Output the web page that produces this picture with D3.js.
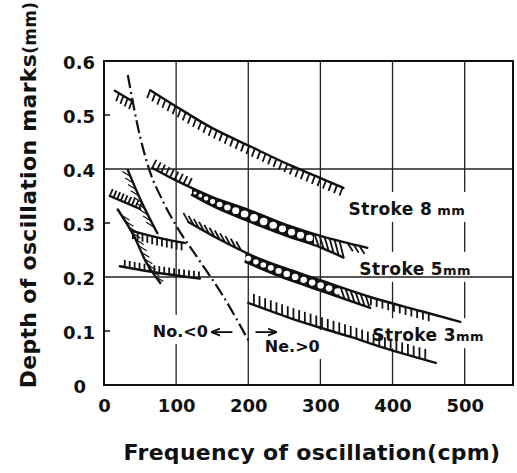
<!DOCTYPE html>
<html>
<head>
<meta charset="utf-8">
<script src="https://cdn.jsdelivr.net/npm/d3@7"></script>
<style>
  body { margin: 0; background: #fff; }
  svg { display: block; }
  text { font-family: "DejaVu Sans", sans-serif; fill: #111; }
</style>
</head>
<body>
<div id="chart"></div>
<script>
// Axis ticks and grid
const xTicks = [0, 100, 200, 300, 400, 500];
const yTicks = [0, 0.1, 0.2, 0.3, 0.4, 0.5, 0.6];
const xGrid = [100, 200, 300, 400, 500];
const yGrid = [0.2, 0.4];

// Curves: [frequency (cpm), depth (mm)]
const stroke8Upper = [[64,0.546],[101,0.515],[147,0.478],[201,0.443],[258,0.407],[300,0.383],[332,0.365]];
const stroke8Short = [[15,0.545],[40,0.525]];
const stroke8LowerTop = [[67,0.402],[101,0.378],[147,0.350],[201,0.324],[258,0.294],[300,0.276],[365,0.254]];
const stroke8LowerBottom = [[122,0.352],[147,0.334],[201,0.303],[258,0.274],[300,0.255],[332,0.236]];
const stroke5Top = [[117,0.302],[161,0.269],[210,0.237],[258,0.213],[300,0.194],[369,0.163],[439,0.137],[494,0.117]];
const stroke5Bottom = [[196,0.228],[258,0.194],[300,0.175],[369,0.143]];
const stroke3 = [[200,0.152],[258,0.124],[300,0.106],[342,0.089],[397,0.065],[460,0.041]];
const leftF = [[8,0.350],[50,0.326]];
const leftG = [[33,0.398],[50,0.345],[74,0.281]];
const leftH = [[19,0.325],[43,0.272],[57,0.231],[78,0.189]];
const leftI = [[40,0.285],[78,0.272],[112,0.263]];
const leftJ = [[22,0.220],[78,0.207],[133,0.197]];
const neBoundary = [[33,0.574],[50,0.46],[65,0.39],[80,0.345],[100,0.295],[130,0.235],[165,0.165],[200,0.083]];

// Labels: [text, small suffix, cpm, depth]
const strokeLabels = [["Stroke 8", " mm", 339, 0.315], ["Stroke 5", "mm", 354, 0.204], ["Stroke 3", "mm", 372, 0.081]];
const signLabels = [["No.<0", 144, 0.089, "end"], ["Ne.>0", 223, 0.061, "start"]];
const signArrows = [[178, 150, 0.098], [210, 238, 0.098]];

const width = 517, height = 473;

const x = d3.scaleLinear().domain([0, 567]).range([104, 513]);
const y = d3.scaleLinear().domain([0, 0.6]).range([385, 61]);

const svg = d3.select("#chart").append("svg")
    .attr("width", width)
    .attr("height", height);

svg.append("defs").append("marker")
    .attr("id", "arrow")
    .attr("viewBox", "0 0 10 10")
    .attr("refX", 9).attr("refY", 5)
    .attr("markerWidth", 5).attr("markerHeight", 5)
    .attr("orient", "auto")
    .append("path")
    .attr("d", "M0,1 L10,5 L0,9")
    .attr("fill", "none").attr("stroke", "#111").attr("stroke-width", 2);

// vertical grid
const gridV = svg.append("g");
gridV.selectAll("line").data(xGrid).enter().append("line")
    .attr("x1", d => x(d)).attr("x2", d => x(d))
    .attr("y1", y(0.6)).attr("y2", y(0))
    .attr("stroke", "#222").attr("stroke-width", 1.3);

const haloLayer = svg.append("g");

const gridH = svg.append("g");
gridH.selectAll("line").data(yGrid).enter().append("line")
    .attr("x1", x(0)).attr("x2", x(567))
    .attr("y1", d => y(d)).attr("y2", d => y(d))
    .attr("stroke", "#222").attr("stroke-width", 1.3);

// frame
svg.append("rect")
    .attr("x", x(0)).attr("y", y(0.6))
    .attr("width", x(567) - x(0)).attr("height", y(0) - y(0.6))
    .attr("fill", "none").attr("stroke", "#111").attr("stroke-width", 2);

// inner ticks on the y axis
svg.append("g").selectAll("line").data([0.1, 0.3, 0.5]).enter().append("line")
    .attr("x1", x(0)).attr("x2", x(0) + 6)
    .attr("y1", d => y(d)).attr("y2", d => y(d))
    .attr("stroke", "#111").attr("stroke-width", 1.5);

// axes (labels only)
const xAxis = svg.append("g")
    .attr("transform", `translate(0,${y(0)})`)
    .call(d3.axisBottom(x).tickValues(xTicks).tickSize(0).tickPadding(14).tickFormat(d3.format("d")));
xAxis.select(".domain").remove();
xAxis.selectAll("text").attr("font-size", 18).attr("font-weight", "bold")
    .attr("font-family", "DejaVu Sans");

const yAxis = svg.append("g")
    .attr("transform", `translate(${x(0)},0)`)
    .call(d3.axisLeft(y).tickValues(yTicks).tickSize(0).tickPadding(9)
        .tickFormat(d => d === 0 ? "0" : d3.format(".1f")(d)));
yAxis.select(".domain").remove();
yAxis.selectAll("text").attr("font-size", 18).attr("font-weight", "bold")
    .attr("font-family", "DejaVu Sans")
    .attr("dy", "0.42em");
yAxis.selectAll(".tick").filter(d => d === 0).select("text").attr("dx", -9);

// axis titles
svg.append("text")
    .attr("x", 312).attr("y", 460)
    .attr("text-anchor", "middle")
    .attr("font-size", 22).attr("font-weight", "bold")
    .attr("letter-spacing", 0.3)
    .text("Frequency of oscillation(cpm)");

const yTitle = svg.append("text")
    .attr("transform", "translate(36,195) rotate(-90)")
    .attr("text-anchor", "middle")
    .attr("font-size", 22).attr("font-weight", "bold")
    .attr("letter-spacing", 0.3);
yTitle.append("tspan").text("Depth of oscillation marks");
yTitle.append("tspan").attr("font-size", 17).text("(mm)");

// curves
const line = d3.line().x(d => x(d[0])).y(d => y(d[1])).curve(d3.curveMonotoneX);
const data = svg.append("g");

function drawCurve(pts, w) {
    return data.append("path")
        .attr("d", line(pts))
        .attr("fill", "none")
        .attr("stroke", "#111")
        .attr("stroke-width", w || 2.4)
        .attr("stroke-linecap", "round");
}

// y on a path at a given pixel x (path runs left to right)
function yAt(node, px) {
    let lo = 0, hi = node.getTotalLength();
    for (let i = 0; i < 30; i++) {
        const mid = (lo + hi) / 2;
        if (node.getPointAtLength(mid).x < px) lo = mid; else hi = mid;
    }
    return node.getPointAtLength(lo).y;
}

function hatch(node, from, to, dx, dy, step, w) {
    const len = node.getTotalLength();
    const g = data.append("g").attr("stroke", "#111").attr("stroke-width", w || 1.8);
    for (let l = 0; l <= len; l += step) {
        const p = node.getPointAtLength(l);
        if (p.x < x(from) || p.x > x(to)) continue;
        g.append("line")
            .attr("x1", p.x).attr("y1", p.y)
            .attr("x2", p.x + dx).attr("y2", p.y + dy);
    }
}

// black band between two curves with white round holes
function chain(topNode, botNode, from, to) {
    const g = data.append("g");
    const x0 = x(from), x1 = x(to);
    const top = [], bot = [];
    for (let px = x0; px <= x1; px += 2) {
        top.push([px, yAt(topNode, px)]);
        bot.push([px, yAt(botNode, px)]);
    }
    g.append("path")
        .attr("d", "M" + top.concat(bot.reverse()).map(p => p.join(",")).join("L") + "Z")
        .attr("fill", "#111");
    let px = x0 + 3;
    while (px < x1 - 2) {
        const yt = yAt(topNode, px), yb = yAt(botNode, px);
        const r = Math.max(1.2, (yb - yt) / 2 - 2);
        g.append("ellipse")
            .attr("cx", px).attr("cy", (yt + yb) / 2)
            .attr("rx", r * 1.05).attr("ry", r)
            .attr("fill", "#fff");
        px += 2 * r + 2.2;
    }
}

function slashes(topNode, botNode, from, to, step, shift) {
    const g = data.append("g").attr("stroke", "#111").attr("stroke-width", 1.8);
    for (let px = x(from); px <= x(to); px += step) {
        g.append("line")
            .attr("x1", px).attr("y1", yAt(topNode, px))
            .attr("x2", px + shift).attr("y2", yAt(botNode, px + shift));
    }
}

const a = drawCurve(stroke8Upper).node();
hatch(a, 64, 332, -3, 8, 6);
const b = drawCurve(stroke8Short).node();
hatch(b, 15, 40, -3, 8, 5);

const cTop = drawCurve(stroke8LowerTop).node();
const cBot = drawCurve(stroke8LowerBottom).node();
hatch(cTop, 67, 122, 4, -8, 5);
chain(cTop, cBot, 122, 292);
slashes(cTop, cBot, 292, 328, 5, 4);
hatch(cTop, 334, 360, 5, 8, 6);

const dTop = drawCurve(stroke5Top).node();
const dBot = drawCurve(stroke5Bottom).node();
hatch(dTop, 117, 196, -5, -9, 6);
chain(dTop, dBot, 196, 328);
slashes(dTop, dBot, 328, 364, 5, 4);
hatch(dTop, 369, 452, 0, 8, 6);

const e = drawCurve(stroke3).node();
hatch(e, 200, 452, 0, -11, 6);

const f = drawCurve(leftF).node();
hatch(f, 8, 50, 3, -7, 4);
const gC = drawCurve(leftG).node();
hatch(gC, 33, 70, -8, -5, 7, 1.2);
const h = drawCurve(leftH).node();
hatch(h, 22, 76, 8, 5, 7, 1.2);
const iC = drawCurve(leftI).node();
hatch(iC, 40, 112, 0, 8, 5);
const jC = drawCurve(leftJ).node();
hatch(jC, 22, 133, 0, -7, 5);

drawCurve(neBoundary, 2.2)
    .attr("stroke-dasharray", "13,4,2,4")
    .attr("stroke-linecap", "butt");

// arrows for the Ne boundary
data.append("g").selectAll("line").data(signArrows).enter().append("line")
    .attr("x1", d => x(d[0])).attr("x2", d => x(d[1]))
    .attr("y1", d => y(d[2])).attr("y2", d => y(d[2]))
    .attr("stroke", "#111").attr("stroke-width", 1.8)
    .attr("marker-end", "url(#arrow)");

// labels with white halos hiding the grid
const labels = svg.append("g");
strokeLabels.forEach(d => {
    const t = labels.append("text")
        .attr("x", x(d[2])).attr("y", y(d[3]))
        .attr("font-size", 17).attr("font-weight", "bold")
        .attr("letter-spacing", 0.4);
    t.append("tspan").text(d[0]);
    t.append("tspan").attr("font-size", 13).text(d[1]);
});
signLabels.forEach(d => {
    labels.append("text")
        .attr("x", x(d[1])).attr("y", y(d[2]))
        .attr("text-anchor", d[3])
        .attr("font-size", 16).attr("font-weight", "bold")
        .text(d[0]);
});
labels.selectAll("text").each(function () {
    const bb = this.getBBox();
    haloLayer.append("rect")
        .attr("x", bb.x - 3).attr("y", bb.y - 7)
        .attr("width", bb.width + 6).attr("height", bb.height + 10)
        .attr("fill", "#fff");
});
</script>
</body>
</html>
